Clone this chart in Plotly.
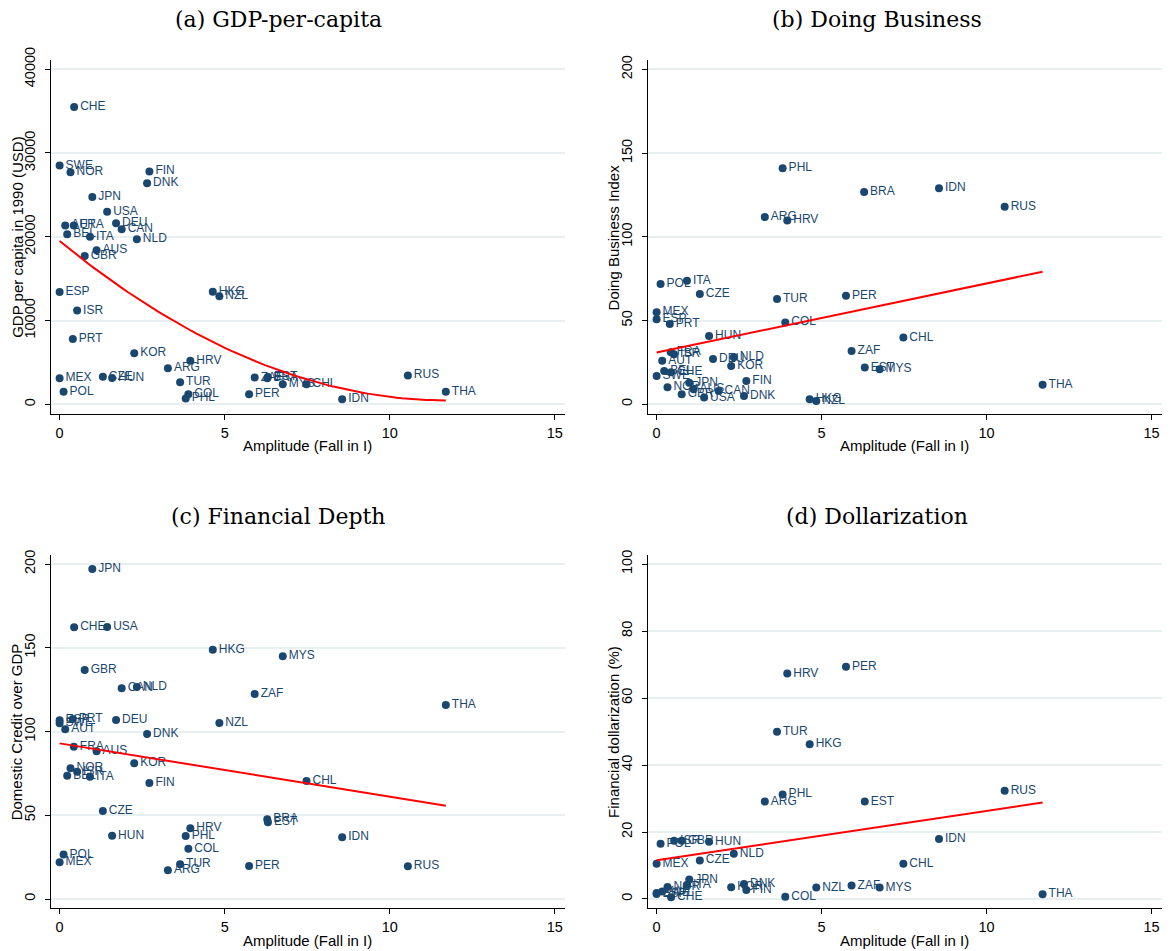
import numpy as np
import plotly.graph_objects as go

# ---------------- data ----------------
countries = ["CHE", "SWE", "NOR", "FIN", "DNK", "JPN", "USA", "AUT", "FRA", "DEU",
             "CAN", "BEL", "ITA", "NLD", "AUS", "GBR", "ESP", "ISR", "PRT", "KOR",
             "HRV", "ARG", "MEX", "CZE", "HUN", "TUR", "COL", "PHL", "POL", "HKG",
             "NZL", "PER", "ZAF", "EST", "BRA", "MYS", "CHL", "RUS", "THA", "IDN"]

amplitude = [0.44, 0.00, 0.33, 2.72, 2.65, 0.99, 1.44, 0.17, 0.43, 1.71,
             1.88, 0.23, 0.92, 2.34, 1.12, 0.76, 0.00, 0.53, 0.40, 2.26,
             3.96, 3.28, 0.00, 1.31, 1.59, 3.65, 3.90, 3.82, 0.12, 4.64,
             4.84, 5.74, 5.91, 6.31, 6.29, 6.76, 7.48, 10.55, 11.70, 8.56]

gdp_per_capita = [35500, 28500, 27700, 27800, 26400, 24750, 23000, 21350, 21350, 21600,
                  20900, 20300, 20000, 19700, 18400, 17700, 13400, 11200, 7800, 6100,
                  5200, 4300, 3100, 3300, 3150, 2650, 1200, 700, 1500, 13450,
                  12900, 1200, 3200, 3250, 3100, 2400, 2400, 3450, 1500, 600]

doing_business = [19.1, 16.9, 10.1, 13.9, 5.0, 12.9, 4.0, 26.0, 31.0, 27.0,
                  7.9, 19.9, 73.8, 28.0, 9.0, 6.0, 50.7, 29.9, 47.9, 22.9,
                  109.8, 111.8, 54.9, 65.9, 40.8, 62.9, 48.9, 140.9, 71.8, 3.0,
                  2.0, 64.8, 31.8, 21.9, 126.8, 20.9, 39.8, 118.0, 11.7, 129.0]

credit_gdp = [162.2, 105.0, 78.0, 69.3, 98.5, 197.0, 162.4, 101.3, 90.9, 106.9,
              125.8, 73.6, 73.0, 126.6, 88.2, 136.7, 106.8, 76.0, 107.5, 81.0,
              42.2, 17.1, 21.9, 52.5, 37.8, 20.7, 30.0, 37.6, 26.5, 148.8,
              105.1, 19.7, 122.4, 45.8, 47.6, 144.9, 70.4, 19.5, 115.8, 36.8]

dollarization = [0.5, 1.8, 3.6, 2.7, 4.5, 5.8, None, 2.2, None, None,
                 None, None, 4.2, 13.5, None, 17.4, 1.5, 17.4, None, 3.5,
                 67.3, 29.1, 10.5, 11.5, 17.1, 49.9, 0.7, 31.2, 16.5, 46.2,
                 3.4, 69.3, 4.0, 29.1, None, 3.4, 10.5, 32.3, 1.4, 17.9]

x_ticks = [0, 5, 10, 15]
gdp_ticks = [0, 10000, 20000, 30000, 40000]
db_ticks = [0, 50, 100, 150, 200]
credit_ticks = [0, 50, 100, 150, 200]
dollar_ticks = [0, 20, 40, 60, 80, 100]

panel_titles = ["(a) GDP-per-capita", "(b) Doing Business",
                "(c) Financial Depth", "(d) Dollarization"]
y_titles = ["GDP per capita in 1990 (USD)", "Doing Business Index",
            "Domestic Credit over GDP", "Financial dollarization (%)"]
x_title = "Amplitude (Fall in I)"

# ---------------- layout geometry ----------------
W, H = 1170, 951
NAVY = "#1a476f"
GRID = "#e8eff1"
SANS = "Liberation Sans, Arial, sans-serif"
SERIF = "DejaVu Serif, serif"

left_dom = [50.7 / W, 565 / W]
right_dom = [647.7 / W, 1161.7 / W]
top_dom = [1 - 414.3 / H, 1 - 60 / H]
bot_dom = [1 - 908.3 / H, 1 - 555 / H]

panels = [
    dict(y=gdp_per_capita, ticks=gdp_ticks, yr=[-1190, 41100], xd=left_dom, yd=top_dom, deg=2),
    dict(y=doing_business, ticks=db_ticks, yr=[-6.0, 205.6], xd=right_dom, yd=top_dom, deg=1),
    dict(y=credit_gdp, ticks=credit_ticks, yr=[-5.55, 205.4], xd=left_dom, yd=bot_dom, deg=1),
    dict(y=dollarization, ticks=dollar_ticks, yr=[-2.78, 102.7], xd=right_dom, yd=bot_dom, deg=1),
]

fig = go.Figure()
annotations = []
for i, p in enumerate(panels):
    n = "" if i == 0 else str(i + 1)
    xs, ys, labs = [], [], []
    for c, a, v in zip(countries, amplitude, p["y"]):
        if v is not None:
            xs.append(a); ys.append(v); labs.append(c)
    fig.add_trace(go.Scatter(
        x=xs, y=ys, text=labs, mode="markers+text", textposition="middle right",
        textfont=dict(family=SANS, size=12, color=NAVY),
        marker=dict(size=8, color=NAVY, line=dict(width=0)),
        cliponaxis=False, showlegend=False, xaxis="x" + n, yaxis="y" + n))
    coef = np.polyfit(np.array(xs), np.array(ys), p["deg"])
    xf = np.linspace(min(xs), max(xs), 80)
    fig.add_trace(go.Scatter(
        x=xf, y=np.polyval(coef, xf), mode="lines",
        line=dict(color="#ff0000", width=2), showlegend=False,
        xaxis="x" + n, yaxis="y" + n))

    axis_common = dict(showline=True, linecolor="black", linewidth=1, ticks="outside",
                       ticklen=5, tickcolor="black", mirror=False, zeroline=False,
                       automargin=False,
                       tickfont=dict(family=SANS, size=14.5, color="black"))
    fig.layout["xaxis" + n] = dict(
        domain=p["xd"], anchor="y" + n, range=[-0.27, 15.31], tickvals=x_ticks,
        showgrid=False, **axis_common)
    fig.layout["yaxis" + n] = dict(
        domain=p["yd"], anchor="x" + n, range=p["yr"], tickvals=p["ticks"],
        tickformat="d", separatethousands=False,
        showgrid=True, gridcolor=GRID, gridwidth=1.5, tickangle=-90,
        ticklabelstandoff=4, **axis_common)

    xc = (p["xd"][0] + p["xd"][1]) / 2
    yc = (p["yd"][0] + p["yd"][1]) / 2
    left = p["xd"] is left_dom
    top = p["yd"] is top_dom
    # panel title
    annotations.append(dict(
        text=panel_titles[i], xref="paper", yref="paper",
        x=(278 if left else 877) / W, y=1 - (20 if top else 516) / H,
        xanchor="center", yanchor="middle", showarrow=False,
        font=dict(family=SERIF, size=22, color="black")))
    # x title
    annotations.append(dict(
        text=x_title, xref="paper", yref="paper", x=xc,
        y=1 - (445 if top else 940) / H, xanchor="center", yanchor="middle",
        showarrow=False, font=dict(family=SANS, size=15, color="black")))
    # y title
    annotations.append(dict(
        text=y_titles[i], xref="paper", yref="paper",
        x=(16.7 if left else 613.3) / W, y=yc, xanchor="center", yanchor="middle",
        textangle=-90, showarrow=False, font=dict(family=SANS, size=15, color="black")))

fig.update_layout(
    width=W, height=H, margin=dict(l=0, r=0, t=0, b=0, autoexpand=False),
    paper_bgcolor="white", plot_bgcolor="white",
    annotations=annotations, showlegend=False)

fig.write_html("out.html")
